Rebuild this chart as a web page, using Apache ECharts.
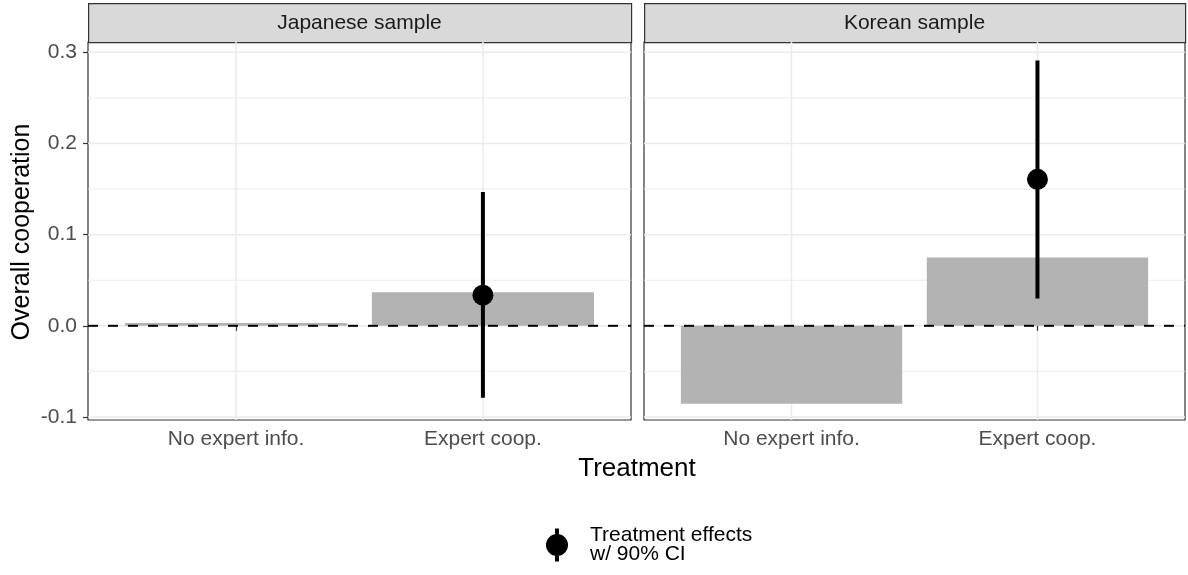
<!DOCTYPE html>
<html>
<head>
<meta charset="utf-8">
<script src="https://cdn.jsdelivr.net/npm/echarts@6/dist/echarts.min.js"></script>
<style>html,body{margin:0;padding:0;background:#fff}#c{width:1188px;height:575px}</style>
</head>
<body>
<div id="c"></div>
<script>
// ---- data ----
const categories = ['No expert info.', 'Expert coop.'];
const panels = ['Japanese sample', 'Korean sample'];
const barJapan = [0.003, 0.0367];
const barKorea = [-0.0854, 0.0749];
// treatment effect (Expert coop.) with 90% CI
const effJapan = [0.0336];
const loJapan = [-0.079];
const hiJapan = [0.1467];
const effKorea = [0.1607];
const loKorea = [0.030];
const hiKorea = [0.291];
const yTicks = [-0.1, 0.0, 0.1, 0.2, 0.3];
const yMinor = [-0.05, 0.05, 0.15, 0.25];
const refLine = [0];
const legendName = 'Treatment effects\nw/ 90% CI';

const FONT = 'Liberation Sans, Arial, Helvetica, sans-serif';
const chart = echarts.init(document.getElementById('c'), null, {renderer: 'canvas'});

const grids = [
  {left: 88, top: 42, width: 543, height: 378},
  {left: 644, top: 42, width: 541, height: 378}
];
const Y_MIN = -0.1033, Y_MAX = 0.3113;

const xAxes = grids.map((g, i) => ({
  type: 'value', gridIndex: i, min: 0.4, max: 2.6,
  axisLine: {show: false},
  axisTick: {show: true, customValues: [1, 2], length: 5, lineStyle: {color: '#333', width: 1.2}},
  axisLabel: {show: true, customValues: [1, 2], margin: 9, color: '#4d4d4d', fontSize: 21, fontFamily: FONT,
    formatter: v => categories[Math.round(v) - 1] || ''},
  splitLine: {show: false}
}));
const yAxes = grids.map((g, i) => ({
  type: 'value', gridIndex: i, min: Y_MIN, max: Y_MAX,
  axisLine: {show: false},
  axisTick: {show: i === 0, customValues: yTicks, length: 5, lineStyle: {color: '#333', width: 1.2}},
  axisLabel: {show: i === 0, customValues: yTicks, margin: 11, color: '#4d4d4d', fontSize: 21, fontFamily: FONT,
    formatter: v => v.toFixed(1)},
  splitLine: {show: false}
}));

function gridRender(params, api) {
  const cs = params.coordSys;
  const kind = api.value(0), v = api.value(1);
  if (kind === 2) {
    const x = api.coord([v, 0])[0];
    return {type: 'line', shape: {x1: x, y1: cs.y, x2: x, y2: cs.y + cs.height},
      style: {stroke: '#ebebeb', lineWidth: 1.5}};
  }
  const y = api.coord([1, v])[1];
  return {type: 'line', shape: {x1: cs.x, y1: y, x2: cs.x + cs.width, y2: y},
    style: {stroke: '#ebebeb', lineWidth: kind === 0 ? 1.5 : 0.9}};
}
function zeroRender(params, api) {
  const cs = params.coordSys;
  const y = api.coord([1, api.value(0)])[1];
  return {type: 'line', shape: {x1: cs.x, y1: y, x2: cs.x + cs.width, y2: y},
    style: {stroke: '#000', lineWidth: 2, lineDash: [10, 10]}};
}
function barRender(params, api) {
  const x = api.value(0), v = api.value(1);
  const p0 = api.coord([x - 0.45, Math.max(v, 0)]);
  const p1 = api.coord([x + 0.45, Math.min(v, 0)]);
  return {type: 'rect', shape: {x: p0[0], y: p0[1], width: p1[0] - p0[0], height: p1[1] - p0[1]},
    style: {fill: '#b3b3b3'}};
}
function ciRender(params, api) {
  const x = api.value(0);
  const a = api.coord([x, api.value(1)]);
  const b = api.coord([x, api.value(2)]);
  return {type: 'line', shape: {x1: a[0], y1: a[1], x2: b[0], y2: b[1]},
    style: {stroke: '#000', lineWidth: 4}};
}

const series = [];
const barSets = [barJapan, barKorea];
const effs = [effJapan, effKorea], los = [loJapan, loKorea], his = [hiJapan, hiKorea];
grids.forEach((g, i) => {
  series.push({
    type: 'custom', xAxisIndex: i, yAxisIndex: i, z: 0, silent: true,
    renderItem: gridRender,
    encode: {y: 1},
    data: [...yMinor.map(v => [1, v]), ...yTicks.map(v => [0, v]), [2, 1], [2, 2]]
  });
  series.push({
    type: 'custom', xAxisIndex: i, yAxisIndex: i, z: 2, silent: true,
    renderItem: barRender,
    encode: {x: 0, y: 1},
    data: barSets[i].map((v, k) => [k + 1, v])
  });
  series.push({
    type: 'custom', xAxisIndex: i, yAxisIndex: i, z: 3, silent: true,
    renderItem: zeroRender,
    encode: {y: 0},
    data: refLine.map(v => [v])
  });
  series.push({
    type: 'custom', xAxisIndex: i, yAxisIndex: i, z: 4, silent: true,
    renderItem: ciRender,
    encode: {x: 0, y: [1, 2]},
    data: effs[i].map((v, k) => [2, los[i][k], his[i][k]])
  });
  series.push({
    type: 'scatter', name: legendName, xAxisIndex: i, yAxisIndex: i, z: 5, silent: true,
    symbol: 'circle', symbolSize: 21, itemStyle: {color: '#000', opacity: 1},
    data: effs[i].map(v => [2, v])
  });
});

const graphics = [];
grids.forEach((g, i) => {
  graphics.push({
    type: 'rect', left: g.left, top: 3, silent: true,
    shape: {width: g.width, height: 39},
    style: {fill: '#d9d9d9', stroke: '#333', lineWidth: 1.2}
  });
  graphics.push({
    type: 'text', x: g.left + g.width / 2, y: 23, silent: true,
    style: {text: panels[i], fill: '#1a1a1a', font: '21px ' + FONT, textAlign: 'center', textVerticalAlign: 'middle'}
  });
});
graphics.push({
  type: 'text', x: 22, y: 232, rotation: Math.PI / 2, silent: true,
  style: {text: 'Overall cooperation', fill: '#000', font: '25px ' + FONT, textAlign: 'center', textVerticalAlign: 'middle'}
});
graphics.push({
  type: 'text', x: 637, y: 469, silent: true,
  style: {text: 'Treatment', fill: '#000', font: '26px ' + FONT, textAlign: 'center', textVerticalAlign: 'middle'}
});

chart.setOption({
  animation: false,
  backgroundColor: '#fff',
  grid: grids.map(g => ({...g, show: true, borderColor: '#333', borderWidth: 1.2, backgroundColor: 'transparent', containLabel: false})),
  xAxis: xAxes,
  yAxis: yAxes,
  legend: {
    data: [legendName], left: 541, top: 520, selectedMode: false,
    icon: 'path://M9,0 L13,0 L13,33 L9,33 Z M11,5.5 A11,11 0 1,1 11,27.5 A11,11 0 1,1 11,5.5 Z',
    itemWidth: 22, itemHeight: 33,
    itemStyle: {color: '#000'},
    textStyle: {fontSize: 21, lineHeight: 19, color: '#000', fontFamily: FONT, padding: [0, 0, 0, 17]}
  },
  graphic: graphics,
  series: series
});
</script>
</body>
</html>
